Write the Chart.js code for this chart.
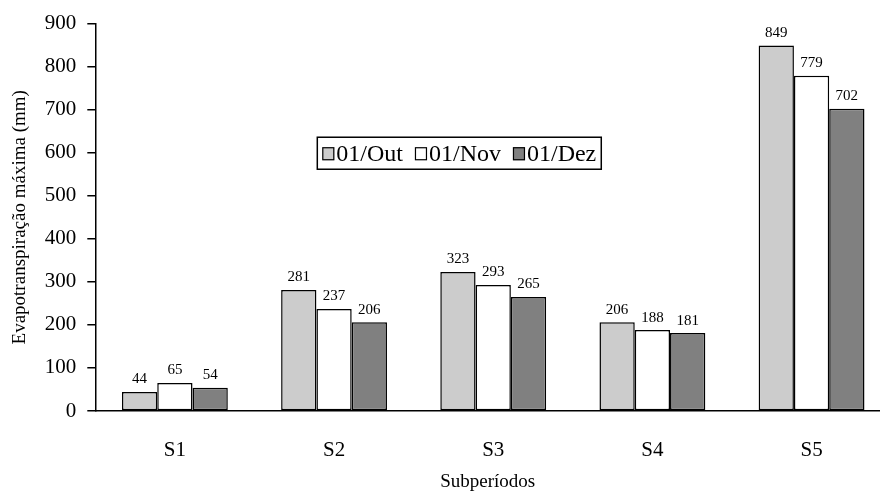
<!DOCTYPE html>
<html>
<head>
<meta charset="utf-8">
<script src="https://cdn.jsdelivr.net/npm/chart.js@4/dist/chart.umd.min.js"></script>
<style>
  html, body { margin: 0; padding: 0; background: #fff; }
  #wrap { width: 880px; height: 494px; }
</style>
</head>
<body>
<div id="wrap"><canvas id="bar_chart"></canvas></div>
<script>
// data
const periods = ['S1', 'S2', 'S3', 'S4', 'S5'];
const seriesNames = ['01/Out', '01/Nov', '01/Dez'];
const outValues = [44, 281, 323, 206, 849];
const novValues = [65, 237, 293, 188, 779];
const dezValues = [54, 206, 265, 181, 702];
const yTicks = [0, 100, 200, 300, 400, 500, 600, 700, 800, 900];
const xTitle = 'Subperíodos';

const fills = ['#cccccc', '#ffffff', '#808080'];
const serif = '"Liberation Serif", "Times New Roman", serif';

// value labels above every bar
const valueLabels = {
  id: 'valueLabels',
  afterDatasetsDraw(chart) {
    const c = chart.ctx;
    c.save();
    c.font = '15px ' + serif;
    c.fillStyle = '#000';
    c.textAlign = 'center';
    c.textBaseline = 'bottom';
    chart.data.datasets.forEach((ds, i) => {
      chart.getDatasetMeta(i).data.forEach((bar, j) => {
        c.fillText(ds.data[j].y, bar.x, bar.y - 5);
      });
    });
    c.restore();
  },
};

// x title drawn by hand so it can sit close to the bottom edge
const bottomTitle = {
  id: 'bottomTitle',
  afterDraw(chart) {
    const c = chart.ctx;
    const area = chart.chartArea;
    c.save();
    c.font = '19px ' + serif;
    c.fillStyle = '#000';
    c.textAlign = 'center';
    c.textBaseline = 'middle';
    c.fillText(xTitle, (area.left + area.right) / 2, chart.height - 12);
    c.restore();
  },
};

// boxed legend sitting inside the plot
const boxLegend = {
  id: 'boxLegend',
  afterDraw(chart) {
    const c = chart.ctx;
    const x = chart.scales.x;
    const y = chart.scales.y;
    const left = x.left + 222;
    const top = y.getPixelForValue(636);
    const sq = 12, gap = 12;
    c.save();
    c.font = '24px ' + serif;
    c.textBaseline = 'middle';
    let w = 5;
    const items = chart.data.datasets.map((ds) => {
      const tw = c.measureText(ds.label).width;
      const it = { label: ds.label, fill: ds.backgroundColor, w: sq + 2 + tw };
      w += it.w + gap;
      return it;
    });
    w = w - gap + 5;
    const h = 32;
    c.lineWidth = 1.5;
    c.strokeStyle = '#000';
    c.strokeRect(left, top, w, h);
    let cx = left + 5;
    const cy = top + h / 2;
    items.forEach((it) => {
      c.fillStyle = it.fill;
      c.fillRect(cx, cy - 6, sq, 13);
      c.lineWidth = 1.2;
      c.strokeRect(cx + 0.5, cy - 5.5, sq - 1, 12);
      c.fillStyle = '#000';
      c.fillText(it.label, cx + sq + 2, cy + 1);
      cx += it.w + gap;
    });
    c.restore();
  },
};

const ctx = document.getElementById('bar_chart').getContext('2d');

new Chart(ctx, {
  type: 'bar',
  data: {
    datasets: [outValues, novValues, dezValues].map((vals, i) => ({
      label: seriesNames[i],
      data: vals.map((v, j) => ({ x: j, y: v })),
      backgroundColor: fills[i],
      borderColor: '#000',
      borderWidth: 1.5,
      borderSkipped: false,
      categoryPercentage: 0.665,
      barPercentage: 1.0,
    })),
  },
  options: {
    responsive: true,
    maintainAspectRatio: false,
    animation: false,
    layout: { padding: { top: 22, right: 0, bottom: 12, left: 9 } },
    plugins: {
      legend: { display: false },
      tooltip: { enabled: false },
    },
    scales: {
      x: {
        type: 'linear',
        min: -0.5,
        max: 4.43,
        offset: false,
        afterBuildTicks: (axis) => {
          axis.ticks = periods.map((p, i) => ({ value: i }));
        },
        grid: { display: false, offset: false },
        border: { color: '#000', width: 1.5 },
        ticks: {
          color: '#000',
          font: { family: serif, size: 21, lineHeight: 1.0 },
          padding: 21,
          callback: (v) => periods[v],
        },
      },
      y: {
        min: 0,
        max: 900,
        afterBuildTicks: (axis) => {
          axis.ticks = yTicks.map((v) => ({ value: v }));
        },
        grid: {
          drawOnChartArea: false,
          drawTicks: true,
          tickLength: 8,
          color: '#000',
          lineWidth: 1.5,
        },
        border: { color: '#000', width: 1.5 },
        ticks: {
          color: '#000',
          font: { family: serif, size: 21 },
          padding: 11,
        },
        title: {
          display: true,
          text: 'Evapotranspiração máxima (mm)',
          color: '#000',
          font: { family: serif, size: 19 },
          padding: { top: 0, bottom: 2 },
        },
      },
    },
  },
  plugins: [valueLabels, boxLegend, bottomTitle],
});
</script>
</body>
</html>
